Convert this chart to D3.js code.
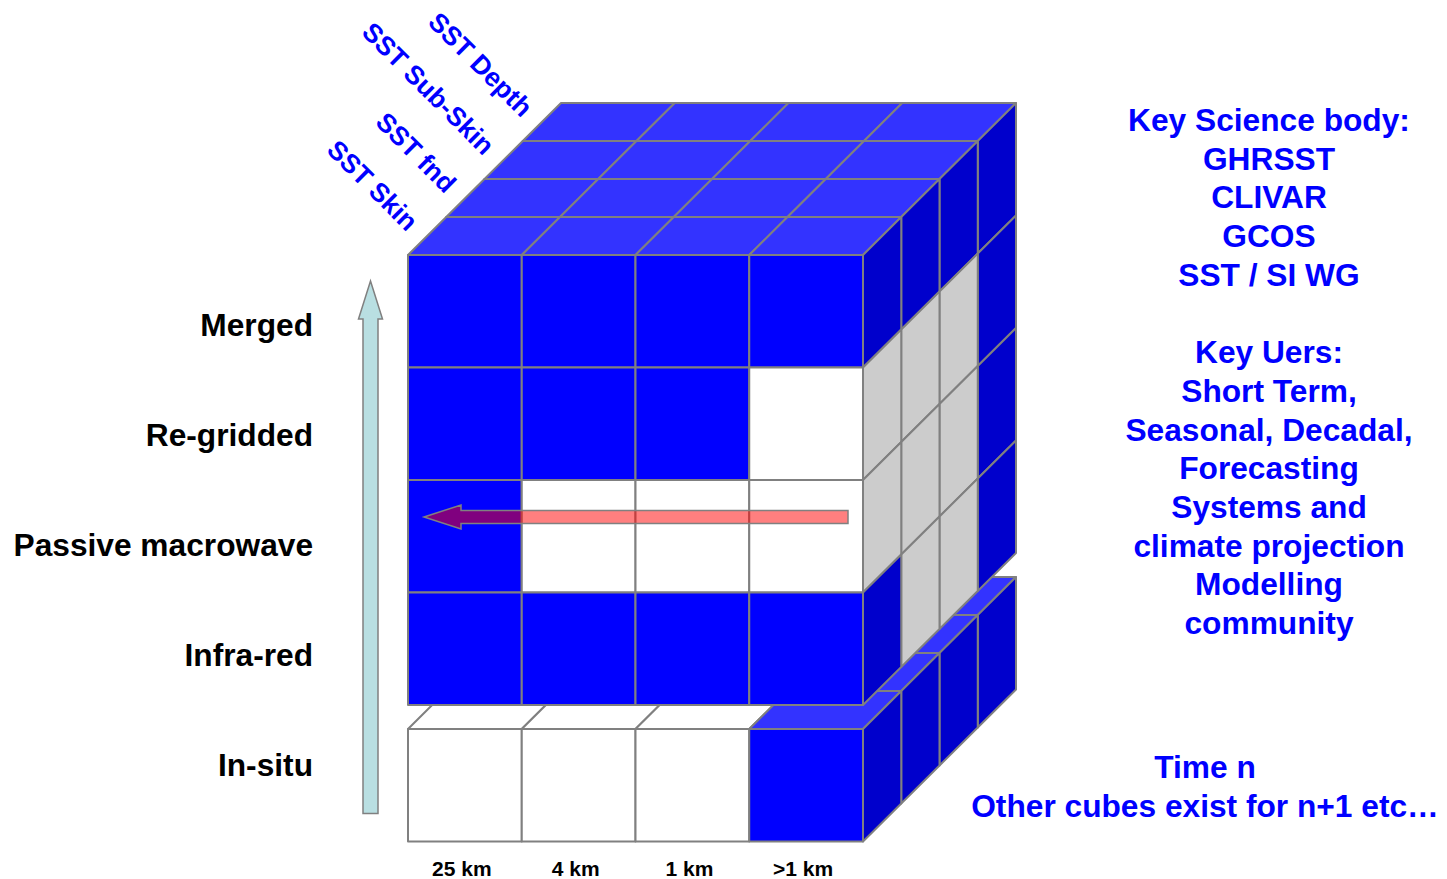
<!DOCTYPE html>
<html>
<head>
<meta charset="utf-8">
<script src="https://cdn.jsdelivr.net/npm/d3@7"></script>
<style>
  html, body { margin: 0; padding: 0; background: #ffffff; }
  svg { display: block; }
  text { font-family: "Liberation Sans", Arial, sans-serif; font-weight: bold; }
</style>
</head>
<body>
<svg id="chart" width="1447" height="879"></svg>
<script>
// ---------- data ----------
const rows = ["Merged", "Re-gridded", "Passive macrowave", "Infra-red", "In-situ"];
const columns = ["25 km", "4 km", "1 km", ">1 km"];
const depths = ["SST Skin", "SST fnd", "SST Sub-Skin", "SST Depth"];

// front face (SST Skin layer): per row, per column (1 = filled, 0 = empty)
const frontFill = [
  [1, 1, 1, 1],
  [1, 1, 1, 0],
  [1, 0, 0, 0],
  [1, 1, 1, 1],
  [0, 0, 0, 1]
];
// right face of the ">1 km" column: per row, per depth layer
const sideFill = [
  [1, 1, 1, 1],
  [0, 0, 0, 1],
  [0, 0, 0, 1],
  [1, 0, 0, 1],
  [1, 1, 1, 1]
];
// top face of the "Merged" row: per depth layer, per column
const topFill = [
  [1, 1, 1, 1],
  [1, 1, 1, 1],
  [1, 1, 1, 1],
  [1, 1, 1, 1]
];
// top face of the "In-situ" row: per depth layer, per column
const inSituTopFill = [
  [0, 0, 0, 1],
  [0, 0, 0, 1],
  [0, 0, 0, 1],
  [0, 0, 0, 1]
];

const scienceLines = ["Key Science body:", "GHRSST", "CLIVAR", "GCOS", "SST / SI WG", "",
  "Key Uers:", "Short Term,", "Seasonal, Decadal,", "Forecasting", "Systems and",
  "climate projection", "Modelling", "community"];
const timeLines = ["Time n", "Other cubes exist for n+1 etc\u2026"];

// ---------- scales ----------
const svg = d3.select("#chart");
const x = d3.scaleLinear().domain([0, 4]).range([408, 863]);       // column edges
const yRow = d3.scaleLinear().domain([0, 4]).range([255, 705]);    // row edges (main block)
const rowH = yRow(1) - yRow(0);
const gap = 24;                                                     // gap above In-situ row
const dX = d3.scaleLinear().domain([0, 4]).range([0, 153]);        // depth offset x
const dY = d3.scaleLinear().domain([0, 4]).range([0, 152]);        // depth offset y
const rowTop = r => yRow(r) + (r === 4 ? gap : 0);
const rowBot = r => rowTop(r) + rowH;
const P = (c, yy, d) => [x(c) + dX(d), yy - dY(d)];

const colors = {
  front: ["#ffffff", "#0000ff"],
  top: ["#ffffff", "#3333ff"],
  side: ["#cccccc", "#0000cc"]
};
const stroke = "#808080";
const line = d3.line();

function face(g, pts, fill) {
  g.append("path")
    .attr("d", line(pts) + "Z")
    .attr("fill", fill)
    .attr("stroke", stroke)
    .attr("stroke-width", 2)
    .attr("stroke-linejoin", "round");
}

function drawRows(rIdx) {
  const g = svg.append("g");
  // top faces
  rIdx.forEach(r => {
    const tf = r === 0 ? topFill : (r === 4 ? inSituTopFill : null);
    if (!tf) return;
    for (let d = 3; d >= 0; d--) {
      for (let c = 0; c < 4; c++) {
        const t = rowTop(r);
        face(g, [P(c, t, d), P(c + 1, t, d), P(c + 1, t, d + 1), P(c, t, d + 1)], colors.top[tf[d][c]]);
      }
    }
  });
  // right side faces
  rIdx.forEach(r => {
    for (let d = 3; d >= 0; d--) {
      const t = rowTop(r), b = rowBot(r);
      face(g, [P(4, t, d), P(4, t, d + 1), P(4, b, d + 1), P(4, b, d)], colors.side[sideFill[r][d]]);
    }
  });
  // front faces
  rIdx.forEach(r => {
    for (let c = 0; c < 4; c++) {
      const t = rowTop(r), b = rowBot(r);
      face(g, [P(c, t, 0), P(c + 1, t, 0), P(c + 1, b, 0), P(c, b, 0)], colors.front[frontFill[r][c]]);
    }
  });
}

// In-situ row first (it lies below/behind), then main block
drawRows([4]);
drawRows([0, 1, 2, 3]);

// ---------- horizontal arrow (Passive row) ----------
{
  const yc = yRow(2) + 37;
  const tipX = x(0) + 16, endX = x(4) - 15;
  const headLen = 37, hh = 12, sh = 6.5;
  const pts = [[tipX, yc], [tipX + headLen, yc - hh], [tipX + headLen, yc - sh], [endX, yc - sh],
               [endX, yc + sh], [tipX + headLen, yc + sh], [tipX + headLen, yc + hh]];
  svg.append("path").attr("d", line(pts) + "Z")
    .attr("fill", "rgba(255,0,0,0.5)")
    .attr("stroke", stroke).attr("stroke-width", 1.5).attr("stroke-linejoin", "miter");
}

// ---------- vertical arrow ----------
{
  const xc = 370.5, sw = 7.5, hw = 12;
  const tipY = yRow(0) + 26, baseY = tipY + 38, botY = rowBot(4) - 28;
  const pts = [[xc, tipY], [xc + hw, baseY], [xc + sw, baseY], [xc + sw, botY],
               [xc - sw, botY], [xc - sw, baseY], [xc - hw, baseY]];
  svg.append("path").attr("d", line(pts) + "Z")
    .attr("fill", "#b9dfe2")
    .attr("stroke", stroke).attr("stroke-width", 1.5);
}

// ---------- row labels ----------
const yLab = d3.scalePoint().domain(rows).range([325, 765]);
svg.append("g").selectAll("text").data(rows).join("text")
  .attr("x", 313).attr("y", d => yLab(d))
  .attr("text-anchor", "end").attr("dominant-baseline", "central")
  .attr("font-size", 31.7).attr("fill", "#000000")
  .text(d => d);

// ---------- column labels ----------
svg.append("g").selectAll("text").data(columns).join("text")
  .attr("x", (d, i) => (x(i) + x(i + 1)) / 2 - 3).attr("y", 868)
  .attr("text-anchor", "middle").attr("dominant-baseline", "central")
  .attr("font-size", 21).attr("fill", "#000000")
  .text(d => d);

// ---------- depth labels ----------
svg.append("g").selectAll("text").data(depths).join("text")
  .attr("transform", (d, i) => {
    const p = P(0, yRow(0), i + 0.5);
    return `translate(${p[0] - 14},${p[1] - 10}) rotate(45)`;
  })
  .attr("text-anchor", "end").attr("dominant-baseline", "central")
  .attr("font-size", 26.5).attr("fill", "#0000ff")
  .text(d => d);

// ---------- right text ----------
svg.append("g").selectAll("text").data(scienceLines).join("text")
  .attr("x", 1269).attr("y", (d, i) => 120 + i * 38.7)
  .attr("text-anchor", "middle").attr("dominant-baseline", "central")
  .attr("font-size", 31.7).attr("fill", "#0000ff")
  .text(d => d);

svg.append("g").selectAll("text").data(timeLines).join("text")
  .attr("x", 1205).attr("y", (d, i) => 767 + i * 38.5)
  .attr("text-anchor", "middle").attr("dominant-baseline", "central")
  .attr("font-size", 31.7).attr("fill", "#0000ff")
  .text(d => d);
</script>
</body>
</html>
